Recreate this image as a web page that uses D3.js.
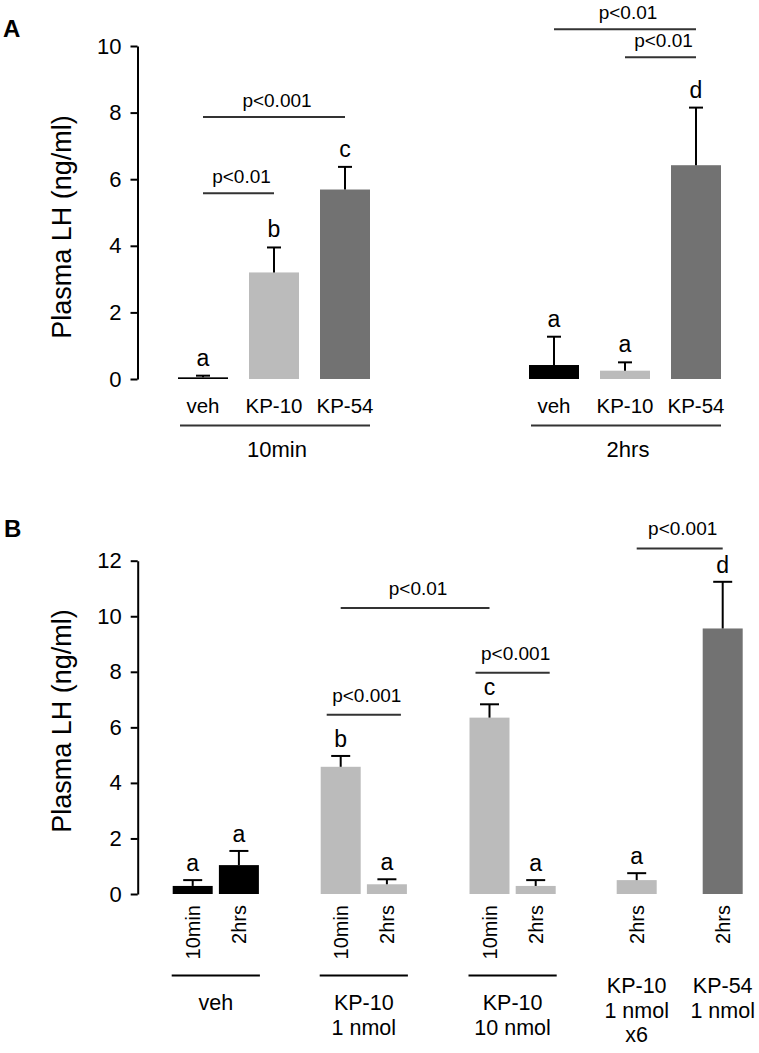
<!DOCTYPE html>
<html><head><meta charset="utf-8">
<script src="https://cdn.jsdelivr.net/npm/d3@7"></script>
<style>
body{margin:0;background:#fff}
svg{display:block}
text{font-family:"Liberation Sans",Arial,Helvetica,sans-serif;fill:#000}
</style>
</head><body>
<svg id="chart" width="759" height="1053"></svg>
<script>
// ================= DATA =================
// Panel A
const treatmentsA = ["veh", "KP-10", "KP-54"];
const timesA = ["10min", "2hrs"];
const meanA_10min = [0.05, 3.20, 5.69];
const semA_10min = [0.05, 0.75, 0.68];
const meanA_2hrs = [0.42, 0.25, 6.42];
const semA_2hrs = [0.85, 0.25, 1.73];
const lettersA_10min = ["a", "b", "c"];
const lettersA_2hrs = ["a", "a", "d"];
const ticksA = [0, 2, 4, 6, 8, 10];
// significance brackets (bar index in order 10min veh,KP-10,KP-54, 2hrs veh,KP-10,KP-54)
const sigFromA = [0, 0, 3, 4];
const sigToA = [1, 2, 5, 5];
const sigLevelA = [5.58, 7.87, 10.50, 9.66];
const sigLabelA = ["p<0.01", "p<0.001", "p<0.01", "p<0.01"];

// Panel B
const groupLabelsB = [["veh"], ["KP-10", "1 nmol"], ["KP-10", "10 nmol"], ["KP-10", "1 nmol", "x6"], ["KP-54", "1 nmol"]];
const groupTreatB = ["veh", "KP-10", "KP-10", "KP-10", "KP-54"];
const barGroupB = [0, 0, 1, 1, 2, 2, 3, 4];
const barTimeB = ["10min", "2hrs", "10min", "2hrs", "10min", "2hrs", "2hrs", "2hrs"];
const meanB = [0.29, 1.04, 4.58, 0.35, 6.35, 0.29, 0.50, 9.56];
const semB = [0.21, 0.51, 0.39, 0.18, 0.48, 0.21, 0.25, 1.68];
const lettersB = ["a", "a", "b", "a", "c", "a", "a", "d"];
const ticksB = [0, 2, 4, 6, 8, 10, 12];
const sigFromB = [2, 4, 2, 6];
const sigToB = [3, 5, 4, 7];
const sigLevelB = [6.45, 7.97, 10.30, 12.44];
const sigLabelB = ["p<0.001", "p<0.001", "p<0.01", "p<0.001"];

// ================= STYLE / LAYOUT =================
const color = d3.scaleOrdinal().domain(["veh", "KP-10", "KP-54"]).range(["#000000", "#bbbbbb", "#727272"]);
const lineCol = "#333333";
const svg = d3.select("#chart");

function drawAxis(g, y, ticks, x) {
  const ax = g.append("g").attr("transform", `translate(${x},0)`)
    .call(d3.axisLeft(y).tickValues(ticks).tickSize(7).tickSizeOuter(0).tickPadding(9).tickFormat(d3.format("d")));
  ax.attr("font-family", null).attr("font-size", null);
  ax.select(".domain").attr("stroke", "#000").attr("stroke-width", 2);
  ax.selectAll(".tick line").attr("stroke", "#000").attr("stroke-width", 2);
  ax.selectAll(".tick text").style("font-size", "22px").attr("fill", "#000");
}

function drawBars(g, bars, y, bw, cap, letterGap) {
  g.selectAll(null).data(bars).enter().append("rect")
    .attr("x", d => d.x).attr("width", bw)
    .attr("y", d => y(d.mean)).attr("height", d => y(0) - y(d.mean))
    .attr("fill", d => color(d.treat));
  const eb = g.selectAll(null).data(bars).enter().append("g");
  eb.append("line").attr("x1", d => d.x + bw / 2).attr("x2", d => d.x + bw / 2)
    .attr("y1", d => y(d.mean)).attr("y2", d => y(d.mean + d.sem))
    .attr("stroke", "#000").attr("stroke-width", 2);
  eb.append("line").attr("x1", d => d.x + bw / 2 - cap / 2).attr("x2", d => d.x + bw / 2 + cap / 2)
    .attr("y1", d => y(d.mean + d.sem)).attr("y2", d => y(d.mean + d.sem))
    .attr("stroke", "#000").attr("stroke-width", 2);
  g.selectAll(null).data(bars).enter().append("text")
    .attr("x", d => d.x + bw / 2).attr("y", d => y(d.mean + d.sem) - letterGap)
    .attr("text-anchor", "middle").style("font-size", "23px").text(d => d.letter);
}

function drawSig(g, bars, from, to, level, label, y, bw, gap, extend) {
  from.forEach((f, k) => {
    const a = bars[f], b = bars[to[k]];
    const ext = extend(a, b) ? bw * 0.35 : 0;
    const x1 = a.x + bw / 2 - ext, x2 = b.x + bw / 2 + ext;
    const yy = y(level[k]);
    g.append("line").attr("x1", x1).attr("x2", x2).attr("y1", yy).attr("y2", yy)
      .attr("stroke", lineCol).attr("stroke-width", 2);
    g.append("text").attr("x", (x1 + x2) / 2 + 3).attr("y", yy - gap)
      .attr("text-anchor", "middle").style("font-size", "19px").attr("fill", "#222").text(label[k]);
  });
}

// ================= PANEL A =================
{
  const g = svg.append("g");
  const y = d3.scaleLinear().domain([0, 10]).range([379, 46]);
  const step = 71, bw = 50, x0 = 178, groupGap = 138;
  const xb = d3.scaleBand().domain(d3.range(6)).range([0, 5 * step + bw]).paddingInner((step - bw) / step).paddingOuter(0);
  const bars = [];
  timesA.forEach((t, gi) => {
    const means = gi === 0 ? meanA_10min : meanA_2hrs;
    const sems = gi === 0 ? semA_10min : semA_2hrs;
    const lets = gi === 0 ? lettersA_10min : lettersA_2hrs;
    treatmentsA.forEach((tr, j) => {
      const i = gi * treatmentsA.length + j;
      bars.push({ group: gi, time: t, treat: tr, mean: means[j], sem: sems[j], letter: lets[j], x: x0 + xb(i) + gi * groupGap });
    });
  });
  drawAxis(g, y, ticksA, 137.5);
  drawBars(g, bars, y, bw, 14, 10);
  drawSig(g, bars, sigFromA, sigToA, sigLevelA, sigLabelA, y, bw, 10, () => false);
  // category labels
  g.selectAll(null).data(bars).enter().append("text")
    .attr("x", d => d.x + bw / 2).attr("y", 413).attr("text-anchor", "middle")
    .style("font-size", "20.5px").text(d => d.treat);
  // group lines + labels
  timesA.forEach((t, gi) => {
    const gb = bars.filter(d => d.group === gi);
    const x1 = d3.min(gb, d => d.x) + 2, x2 = d3.max(gb, d => d.x) + bw;
    g.append("line").attr("x1", x1).attr("x2", x2).attr("y1", 425.5).attr("y2", 425.5)
      .attr("stroke", lineCol).attr("stroke-width", 2);
    g.append("text").attr("x", (x1 + x2) / 2 + 2).attr("y", 457).attr("text-anchor", "middle")
      .style("font-size", "22px").text(t);
  });
  g.append("text").attr("transform", "translate(71,227) rotate(-90)").attr("text-anchor", "middle")
    .style("font-size", "27px").text("Plasma LH (ng/ml)");
  g.append("text").attr("x", 3).attr("y", 37).style("font-size", "24px").style("font-weight", "bold").text("A");
}

// ================= PANEL B =================
{
  const g = svg.append("g");
  const y = d3.scaleLinear().domain([0, 12]).range([894, 560.7]);
  const step = 46.2, bw = 40, x0 = 172.7;
  const gapsB = [55.6, 56.4, 54.8, 39.8];
  const cumGap = [0];
  gapsB.forEach((v, i) => cumGap.push(cumGap[i] + v));
  const n = meanB.length;
  const xb = d3.scaleBand().domain(d3.range(n)).range([0, (n - 1) * step + bw]).paddingInner((step - bw) / step).paddingOuter(0);
  const bars = meanB.map((m, i) => ({
    group: barGroupB[i], time: barTimeB[i], treat: groupTreatB[barGroupB[i]],
    mean: m, sem: semB[i], letter: lettersB[i], x: x0 + xb(i) + cumGap[barGroupB[i]]
  }));
  drawAxis(g, y, ticksB, 137.7);
  drawBars(g, bars, y, bw, 19, 9);
  drawSig(g, bars, sigFromB, sigToB, sigLevelB, sigLabelB, y, bw, 13, (a, b) => a.group === b.group);
  // rotated time labels
  g.selectAll(null).data(bars).enter().append("text")
    .attr("transform", d => `translate(${d.x + bw / 2},905) rotate(-90)`)
    .attr("text-anchor", "end").attr("dy", "0.36em")
    .style("font-size", "20px").text(d => d.time);
  // group lines and labels
  groupLabelsB.forEach((lines, gi) => {
    const gb = bars.filter(d => d.group === gi);
    const x1 = d3.min(gb, d => d.x) - 1, x2 = d3.max(gb, d => d.x) + bw + 1;
    const cx = (x1 + x2) / 2;
    let base = 993;
    if (gb.length > 1) {
      g.append("line").attr("x1", x1).attr("x2", x2).attr("y1", 975.5).attr("y2", 975.5)
        .attr("stroke", "#000").attr("stroke-width", 2);
      base = 1010;
    }
    const t = g.append("text").attr("text-anchor", "middle").style("font-size", "21.5px");
    lines.forEach((s, k) => {
      t.append("tspan").attr("x", cx).attr("y", base + k * 24.5).text(s);
    });
  });
  g.append("text").attr("transform", "translate(71,721) rotate(-90)").attr("text-anchor", "middle")
    .style("font-size", "27px").text("Plasma LH (ng/ml)");
  g.append("text").attr("x", 4).attr("y", 537).style("font-size", "24px").style("font-weight", "bold").text("B");
}
</script>
</body></html>
